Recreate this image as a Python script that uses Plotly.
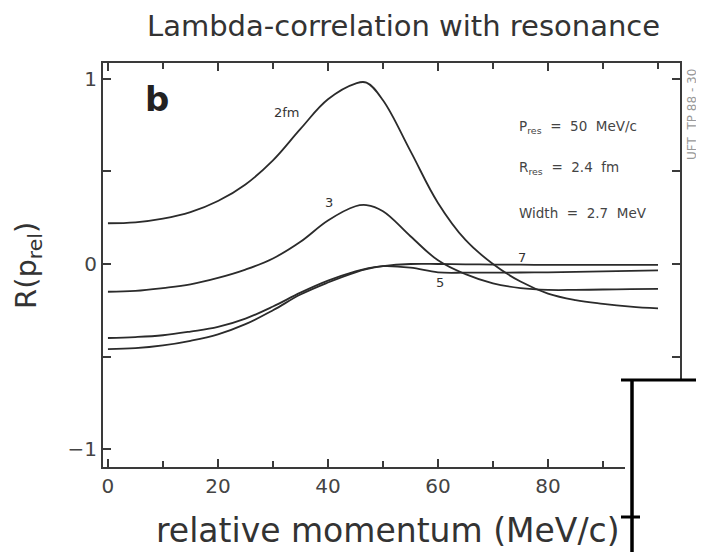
import plotly.graph_objects as go

# ---- data ----
p_rel = [0, 5, 10, 15, 20, 25, 30, 35, 40, 45, 47, 50, 55, 60, 65, 70, 75, 80, 85, 90, 95, 100]
r_2fm = [0.22, 0.225, 0.245, 0.28, 0.34, 0.43, 0.56, 0.73, 0.89, 0.975, 0.98, 0.885, 0.61, 0.33, 0.13, 0.0,
         -0.095, -0.16, -0.195, -0.215, -0.23, -0.24]
r_3fm = [-0.15, -0.145, -0.13, -0.11, -0.075, -0.03, 0.03, 0.12, 0.235, 0.312, 0.318, 0.285, 0.15, 0.02,
         -0.055, -0.105, -0.13, -0.14, -0.14, -0.138, -0.136, -0.135]
r_5fm = [-0.40, -0.395, -0.385, -0.365, -0.34, -0.295, -0.23, -0.155, -0.09, -0.04, -0.025, -0.012, -0.02,
         -0.045, -0.047, -0.047, -0.046, -0.045, -0.043, -0.04, -0.037, -0.035]
r_7fm = [-0.46, -0.455, -0.44, -0.415, -0.38, -0.325, -0.25, -0.165, -0.10, -0.045, -0.028, -0.012, 0.0,
         0.0, -0.002, -0.003, -0.004, -0.005, -0.005, -0.005, -0.005, -0.005]
series = {"2fm": r_2fm, "3": r_3fm, "5": r_5fm, "7": r_7fm}

x_ticks = [0, 20, 40, 60, 80]
y_ticks = [-1, 0, 1]

title_text = "Lambda-correlation with resonance"
x_title = "relative momentum (MeV/c)"
y_title = "R(p<sub>rel</sub>)"
params = ["P<sub>res</sub>  =  50  MeV/c", "R<sub>res</sub>  =  2.4  fm", "Width  =  2.7  MeV"]
curve_labels = [("2fm", 32.5, 0.82), ("3", 40.1, 0.33), ("7", 75.3, 0.035), ("5", 60.3, -0.10)]

LINE = "#2b2b2b"
AX = "#3a3a3a"
FONT = "DejaVu Sans"

fig = go.Figure()
for name, vals in series.items():
    fig.add_trace(go.Scatter(x=p_rel, y=vals, mode="lines", name=name,
                             line=dict(color=LINE, width=1.8, shape="spline", smoothing=1.1),
                             showlegend=False))

# the page body has an 8px margin, so the figure is drawn 8px in from the window corner
OFF = 8
W, H = 704 - OFF, 552 - OFF
L, T, R, B = 103 - OFF, 63 - OFF, 24, 85
pw, ph = W - L - R, H - T - B


def px(xp):
    return (xp - OFF - L) / pw


def py(yp):
    return (H - B - (yp - OFF)) / ph


fig.update_layout(
    width=W, height=H,
    margin=dict(l=L, r=R, t=T, b=B),
    paper_bgcolor="white", plot_bgcolor="white",
    font=dict(family=FONT, color="#333"),
    xaxis=dict(range=[-0.9, 104], tickvals=x_ticks, ticks="inside", ticklen=8, tickwidth=1.5,
               tickcolor=AX, showline=True, linecolor=AX, linewidth=2, mirror="ticks",
               showgrid=False, zeroline=False, tickfont=dict(size=20, color="#444", family=FONT),
               minor=dict(dtick=10, tick0=0, ticks="inside", ticklen=6, tickcolor=AX, showgrid=False)),
    yaxis=dict(range=[-1.097, 1.086], tickvals=y_ticks, ticktext=["\u22121", "0", "1"],
               ticks="inside", ticklen=8, tickwidth=1.5,
               tickcolor=AX, showline=True, linecolor=AX, linewidth=2, mirror="ticks",
               showgrid=False, zeroline=False, tickfont=dict(size=20, color="#444", family=FONT),
               minor=dict(dtick=0.5, tick0=0, ticks="inside", ticklen=8, tickcolor=AX, showgrid=False)),
)

ann = []
ann.append(dict(text=title_text, xref="paper", yref="paper", x=px(145), y=py(26), xanchor="left",
                yanchor="middle", showarrow=False, font=dict(size=29, color="#333", family=FONT)))
ann.append(dict(text=x_title, xref="paper", yref="paper", x=px(388), y=py(530), xanchor="center",
                yanchor="middle", showarrow=False, font=dict(size=33, color="#333", family=FONT)))
ann.append(dict(text=y_title, xref="paper", yref="paper", x=px(28), y=py(265), xanchor="center",
                yanchor="middle", textangle=-90, showarrow=False,
                font=dict(size=29, color="#333", family=FONT)))
ann.append(dict(text="<b>b</b>", xref="x", yref="y", x=8.9, y=0.89, showarrow=False,
                font=dict(size=34, color="#222", family=FONT)))
for lab, lx, ly in curve_labels:
    ann.append(dict(text=lab, xref="x", yref="y", x=lx, y=ly, showarrow=False,
                    font=dict(size=13, color="#333", family=FONT)))
for txt, yy in zip(params, [127, 168, 213]):
    ann.append(dict(text=txt, xref="paper", yref="paper", x=px(517), y=py(yy), xanchor="left",
                    yanchor="middle", showarrow=False, font=dict(size=13.5, color="#444", family=FONT)))
ann.append(dict(text="UFT  TP 88 - 30", xref="paper", yref="paper", x=px(692), y=py(115),
                xanchor="center", yanchor="middle", textangle=-90, showarrow=False,
                font=dict(size=12, color="#999", family=FONT)))
fig.update_layout(annotations=ann)

# scan artefact in the lower-right corner (white patch bounded by black strokes)
shapes = [
    dict(type="rect", xref="paper", yref="paper", x0=px(625), x1=px(706), y0=py(553), y1=py(381),
         fillcolor="white", line=dict(width=0), layer="above"),
    dict(type="line", xref="paper", yref="paper", x0=px(632), x1=px(632), y0=py(381), y1=py(552),
         line=dict(color="black", width=3.5), layer="above"),
    dict(type="line", xref="paper", yref="paper", x0=px(621), x1=px(704), y0=py(380), y1=py(380),
         line=dict(color="black", width=3), layer="above"),
    dict(type="line", xref="paper", yref="paper", x0=px(621), x1=px(640), y0=py(517), y1=py(517),
         line=dict(color="black", width=3), layer="above"),
]
fig.update_layout(shapes=shapes)

fig.write_html("out.html")
